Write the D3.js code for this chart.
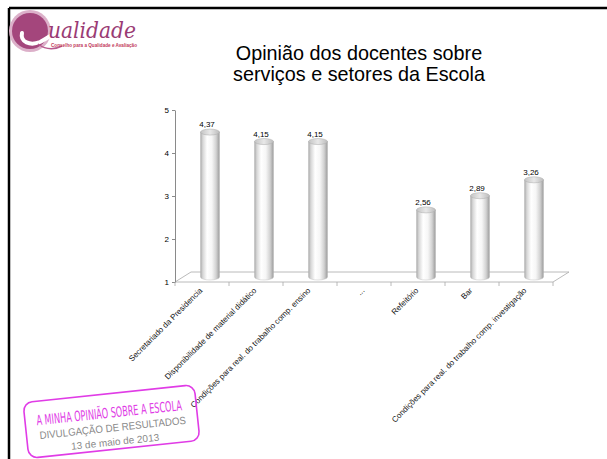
<!DOCTYPE html>
<html>
<head>
<meta charset="utf-8">
<script src="https://d3js.org/d3.v7.min.js"></script>
<style>
  body { margin: 0; background: #fff; }
  svg { display: block; }
</style>
</head>
<body>
<div id="chart"></div>
<script>
// data
var categories = ["Secretariado da Presidencia",
                  "Disponibilidade de material didático",
                  "Condições para real. do trabalho  comp.  ensino",
                  "...",
                  "Refeitório",
                  "Bar",
                  "Condições para real. do trabalho  comp. investigação"];
var values = [4.37, 4.15, 4.15, null, 2.56, 2.89, 3.26];
var yTicks = [1, 2, 3, 4, 5];
var titleLines = ["Opinião dos docentes sobre", "serviços e setores da Escola"];
var stampLines = ["A MINHA OPINIÃO SOBRE A ESCOLA", "DIVULGAÇÃO DE RESULTADOS", "13 de maio de 2013"];

var W = 607, H = 459;
var depth = {dx: 16, dy: -10};

var svg = d3.select("#chart").append("svg")
    .attr("width", W).attr("height", H)
    .style("font-family", "'Liberation Sans', Arial, sans-serif");

// slide frame (top and left only are visible)
svg.append("line").attr("x1", 9).attr("y1", 8).attr("x2", W).attr("y2", 8)
    .attr("stroke", "#000").attr("stroke-width", 2.5);
svg.append("line").attr("x1", 9).attr("y1", 8).attr("x2", 9).attr("y2", H)
    .attr("stroke", "#000").attr("stroke-width", 2.5);

// logo
var logo = svg.append("g");
logo.append("circle").attr("cx", 30).attr("cy", 31).attr("r", 21).attr("fill", "#dcb0c9");
logo.append("circle").attr("cx", 30).attr("cy", 31).attr("r", 18).attr("fill", "#a4467c");
logo.append("path")
    .attr("d", "M22,33 C20,42 30,46 40,42 C46,39 50,36 52,35")
    .attr("fill", "none").attr("stroke", "#fff").attr("stroke-width", 4).attr("stroke-linecap", "round");
logo.append("path")
    .attr("d", "M38,44 C46,50 54,50 62,46")
    .attr("fill", "none").attr("stroke", "#b85a8e").attr("stroke-width", 1.5);
logo.append("text").attr("x", 48).attr("y", 38)
    .attr("font-family", "'DejaVu Serif', serif").attr("font-style", "italic")
    .attr("font-size", 22).attr("fill", "#9a3b74")
    .attr("textLength", 88).attr("lengthAdjust", "spacingAndGlyphs")
    .text("ualidade");
logo.append("text").attr("x", 51).attr("y", 47)
    .attr("font-size", 5).attr("font-weight", "bold").attr("fill", "#c23a5c")
    .attr("textLength", 86).attr("lengthAdjust", "spacingAndGlyphs")
    .text("Conselho para a Qualidade e Avaliação");

// title
svg.append("g").selectAll("text").data(titleLines).enter().append("text")
    .attr("x", 359).attr("y", function(d, i) { return 60 + i * 21; })
    .attr("text-anchor", "middle").attr("font-size", 19.8).attr("fill", "#000")
    .text(function(d) { return d; });

// scales
var x = d3.scaleBand().domain(categories).range([175, 553]).padding(0);
var y = d3.scaleLinear().domain([1, 5]).range([282, 110]);

// floor
var x0 = x.range()[0], x1 = x.range()[1], yb = y(1);
svg.append("path")
    .attr("d", "M" + x0 + "," + yb + "L" + (x0 + depth.dx) + "," + (yb + depth.dy) +
               "L" + (x1 + depth.dx) + "," + (yb + depth.dy) + "L" + x1 + "," + yb + "Z")
    .attr("fill", "#fff").attr("stroke", "#a8a8a8").attr("stroke-width", 0.8);

// y axis
var yAxis = svg.append("g").attr("transform", "translate(" + x0 + ",0)")
    .call(d3.axisLeft(y).tickValues(yTicks).tickFormat(d3.format("d")).tickSize(3).tickSizeOuter(0));
yAxis.select(".domain").attr("stroke", "#8a8a8a");
yAxis.selectAll(".tick line").attr("stroke", "#8a8a8a");
yAxis.selectAll(".tick text").attr("font-size", 8).attr("fill", "#000")
    .attr("font-family", "'Liberation Sans', Arial, sans-serif");

// category boundary ticks
var bounds = categories.map(function(c) { return x(c); }).concat([x1]);
svg.append("g").selectAll("line").data(bounds).enter().append("line")
    .attr("x1", function(d) { return d; }).attr("x2", function(d) { return d; })
    .attr("y1", yb).attr("y2", yb + 4)
    .attr("stroke", "#a8a8a8").attr("stroke-width", 0.8);

// cylinder gradient
var defs = svg.append("defs");
var grad = defs.append("linearGradient").attr("id", "cyl").attr("x1", "0").attr("x2", "1").attr("y1", "0").attr("y2", "0");
[[0, "#a9a9a9"], [0.12, "#d6d6d6"], [0.35, "#ffffff"], [0.6, "#f6f6f6"], [0.82, "#d2d2d2"], [1, "#9c9c9c"]]
  .forEach(function(s) { grad.append("stop").attr("offset", s[0]).attr("stop-color", s[1]); });
var topGrad = defs.append("linearGradient").attr("id", "cyltop").attr("x1", "0").attr("x2", "1");
[[0, "#c4c4c4"], [0.5, "#e8e8e8"], [1, "#bcbcbc"]]
  .forEach(function(s) { topGrad.append("stop").attr("offset", s[0]).attr("stop-color", s[1]); });

var barW = 19, rx = barW / 2, ry = 3;
var bars = categories.map(function(c, i) { return {cat: c, v: values[i]}; })
    .filter(function(d) { return d.v != null; });

function cx(d) { return x(d.cat) + x.bandwidth() / 2 + depth.dx / 2; }
function topY(d) { return y(d.v) + depth.dy / 2; }

var bar = svg.append("g").selectAll("g").data(bars).enter().append("g");
bar.append("path")
    .attr("d", function(d) {
      var l = cx(d) - rx, r = cx(d) + rx, t = topY(d), b = yb + depth.dy / 2;
      return "M" + l + "," + t + "L" + l + "," + b + "A" + rx + "," + ry + " 0 0 0 " + r + "," + b +
             "L" + r + "," + t + "Z";
    })
    .attr("fill", "url(#cyl)").attr("stroke", "#b5b5b5").attr("stroke-width", 0.4);
bar.append("ellipse")
    .attr("cx", cx).attr("cy", topY).attr("rx", rx).attr("ry", ry)
    .attr("fill", "url(#cyltop)").attr("stroke", "#aaa").attr("stroke-width", 0.5);
bar.append("text")
    .attr("x", function(d) { return cx(d) - 3; }).attr("y", function(d) { return topY(d) - 5; })
    .attr("text-anchor", "middle").attr("font-size", 8).attr("fill", "#000")
    .text(function(d) { return d3.format(".2f")(d.v).replace(".", ","); });

// category labels
svg.append("g").selectAll("text").data(categories).enter().append("text")
    .attr("transform", function(d) {
      return "translate(" + (x(d) + x.bandwidth() / 2 + 1) + "," + (yb + 9) + ") rotate(-45)";
    })
    .attr("text-anchor", "end").attr("font-size", 8).attr("fill", "#111")
    .text(function(d) { return d; });

// stamp
var stamp = svg.append("g").attr("transform", "translate(111.5,421.5) rotate(-6)");
stamp.append("rect").attr("x", -86).attr("y", -28).attr("width", 172).attr("height", 56)
    .attr("rx", 9).attr("fill", "none").attr("stroke", "#e03ce6").attr("stroke-width", 1.6);
stamp.append("text").attr("x", -1.5).attr("y", -4).attr("text-anchor", "middle")
    .attr("font-family", "'Liberation Sans Narrow', 'DejaVu Sans Condensed', sans-serif")
    .attr("font-size", 14).attr("fill", "#e03ce6")
    .attr("textLength", 146).attr("lengthAdjust", "spacingAndGlyphs")
    .text(stampLines[0]);
stamp.append("text").attr("x", 0.5).attr("y", 10).attr("text-anchor", "middle")
    .attr("font-size", 10.5).attr("fill", "#8a8a8a")
    .attr("textLength", 147).attr("lengthAdjust", "spacingAndGlyphs")
    .text(stampLines[1]);
stamp.append("text").attr("x", 1.5).attr("y", 24).attr("text-anchor", "middle")
    .attr("font-size", 10).attr("fill", "#8a8a8a")
    .text(stampLines[2]);
</script>
</body>
</html>
